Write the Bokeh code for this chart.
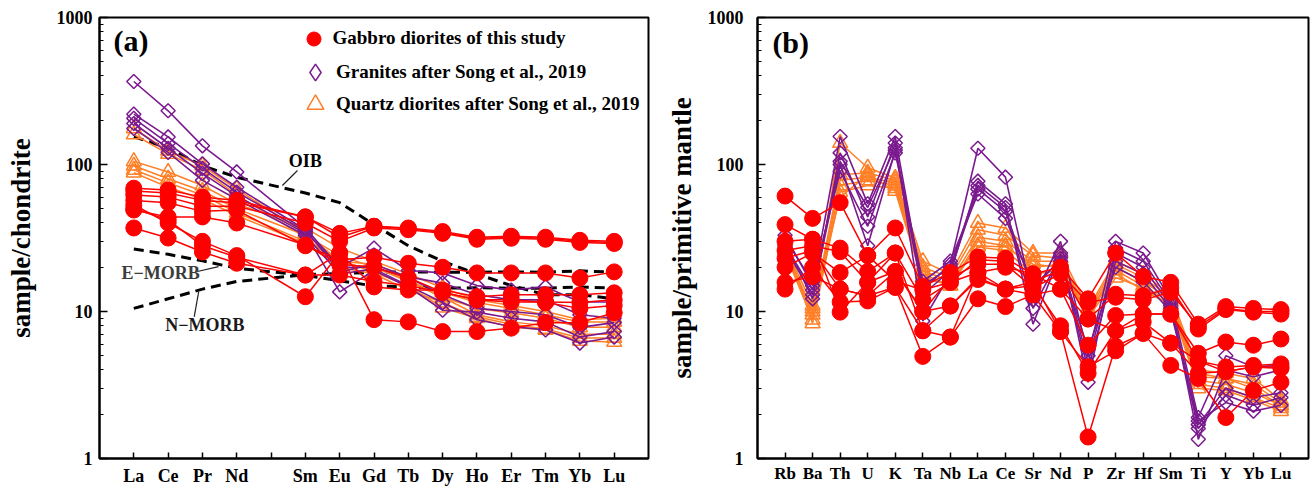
from bokeh.plotting import figure
from bokeh.layouts import row
from bokeh.models import Range1d, FixedTicker, Legend, LegendItem, Label, Arrow, BasicTickFormatter
from bokeh.embed import file_html
from bokeh.resources import INLINE

FONT = "Liberation Serif"
RED = "#ff0000"
PURPLE = "#7b1a8e"
ORANGE = "#ff7f27"

# ---------------- data: panel (a) chondrite-normalised REE ----------------
ree_ticks = ["La", "Ce", "Pr", "Nd", "", "Sm", "Eu", "Gd", "Tb", "Dy", "Ho", "Er", "Tm", "Yb", "Lu"]
ree_elements = [t for t in ree_ticks if t]

gabbro_ree = [
    [69, 67, 60, 57, 44, 34, 38, 37, 35, 32, 32.5, 32, 30.5, 30],
    [66, 64, 57, 55, 44, 32, 38, 36.5, 34.5, 31.5, 32, 31.5, 30, 29.5],
    [62, 60, 52, 52, 40, 30, 37, 36, 34, 31, 31.5, 31, 29.5, 29],
    [57, 55, 48, 49, 28, 22.5, 23.4, 21.3, 20, 18.3, 18.3, 18.3, 16.9, 18.6],
    [50, 42, 28, 23.4, 17.7, 25, 14.7, 14, 14, 12.6, 13, 13, 13, 13.4],
    [37, 31.6, 25.4, 21.3, 17.7, 17.7, 16, 15, 13.5, 12, 11.6, 11.6, 11.5, 12],
    [53, 40, 30, 24, 12.6, 25, 8.8, 8.5, 7.3, 7.3, 7.7, 8.4, 8.4, 9.8],
    [49, 44, 44, 40, 28.3, 21, 20, 17, 13.5, 12, 12, 11.5, 10.5, 11],
]
granite_ree = [
    [367, 232, 134, 89, 37, 20, 27, 19, 18.3, 15, 14, 14.7, 11.6, 11.6],
    [220, 154, 101, 70, 36, 18.6, 21, 17.2, 15.6, 13, 12, 12, 9.5, 9],
    [206, 139, 94, 65, 35, 20, 20, 17, 13, 10.5, 10, 9.5, 7.8, 8.4],
    [190, 129, 87, 61, 34, 13.6, 19, 14.7, 10.2, 9.9, 9, 8.5, 6.7, 7.3],
    [176, 121, 78, 58, 33, 18, 19.5, 15, 11.5, 8.8, 7.9, 7.5, 6.1, 6.7],
]
qdiorite_ree = [
    [176, 124, 98, 68, 34, 22, 21, 17, 13.5, 11.5, 10.5, 9.5, 8.5, 8.5],
    [160, 118, 92, 62, 32, 21, 20, 16, 12.5, 10.5, 9.8, 9, 7.8, 7.8],
    [105, 89, 72, 54, 37, 27, 22, 18, 14.5, 12, 11, 10, 8.8, 9],
    [98, 80, 66, 50, 33, 24, 20, 16.5, 12.5, 9.5, 8.5, 8, 7, 7],
    [92, 75, 62, 47, 30, 22.4, 18.5, 15, 10.6, 9, 7.8, 7.5, 6.3, 6.2],
    [88, 70, 58, 45, 29, 20, 18, 14, 11.5, 9.2, 8.2, 7.6, 6.6, 6.6],
]
oib_ree = [154, 130, 98, 82, 64, 55, 39, 28, 22, 18, 15, 13, 13, 12.2]
emorb_ree = [26.6, 24.5, 22.1, 19.7, 17.6, 16.2, 14.9, 14.7, 14.4, 14.5, 14.4, 14.4, 14.7, 14.4]
nmorb_ree = [10.5, 12.2, 14.2, 16.0, 17.8, 18.1, 18.5, 18.6, 18.5, 18.5, 18.6, 18.5, 18.9, 18.5]

# ---------------- data: panel (b) primitive-mantle-normalised ----------------
pm_elements = ["Rb", "Ba", "Th", "U", "K", "Ta", "Nb", "La", "Ce", "Sr", "Nd", "P",
               "Zr", "Hf", "Sm", "Ti", "Y", "Yb", "Lu"]

gabbro_pm = [
    [61, 43, 55, 24, 37, 14.8, 18.4, 23.5, 23, 18, 20, 12.2, 25, 17.3, 15.8, 8.2, 10.8, 10.5, 10.3],
    [39, 31, 27, 18.7, 25, 12, 15.8, 22.5, 22, 16, 19, 8.9, 13.1, 12.8, 14.5, 7.6, 10.3, 9.9, 9.6],
    [26, 28, 25.5, 15.8, 18.7, 10, 17, 21, 21, 14.5, 18, 11.5, 12.5, 12, 13.5, 7.9, 10.5, 10, 10],
    [20, 25, 18.4, 24, 16.1, 14, 15.8, 18.4, 20, 18, 14.2, 5.9, 9.4, 9.6, 9.6, 5.2, 6.2, 5.9, 6.5],
    [15.8, 17.3, 14.2, 12.8, 14.6, 7.4, 10.9, 17, 14.2, 15, 8, 3.8, 7.4, 8.5, 6.1, 4.6, 4.2, 4.3, 4.4],
    [14.2, 20, 11.6, 11.8, 14.6, 4.95, 6.7, 12.2, 10.8, 13, 7.3, 4.2, 5.4, 7.1, 6.1, 3.8, 3.9, 4.2, 4.2],
    [30, 31, 9.9, 15.8, 25, 7.4, 6.7, 18.4, 14.2, 16, 7.3, 1.4, 5.8, 7.1, 4.3, 3.5, 1.9, 2.9, 3.3],
    [23, 26, 14.2, 12.8, 18.7, 10, 10.9, 16.5, 14.2, 13, 14.2, 8.9, 7.4, 9.6, 9.6, 4.6, 3.9, 4.2, 4.1],
]
granite_pm = [
    [33, 15, 155, 54, 155, 14, 21, 129, 82, 12, 30, 5, 30, 25, 12, 1.9, 5.0, 4.2, 4.3],
    [30, 12.2, 120, 44, 140, 8.6, 18, 77, 54, 8.2, 25, 3.3, 27, 22, 11.5, 1.35, 4.0, 3.6, 4.0],
    [28, 14, 105, 51, 130, 15, 20, 72, 51, 10.5, 24, 4.5, 25, 20, 11, 1.7, 3.0, 2.6, 2.8],
    [27, 13, 100, 28, 125, 13, 19, 68, 48, 14, 23, 4.0, 22, 18, 10.5, 1.6, 2.7, 2.3, 2.6],
    [31, 16, 90, 38, 120, 16, 22, 63, 43, 15, 22, 5.5, 20, 16, 10, 1.8, 2.4, 2.1, 2.3],
]
qdiorite_pm = [
    [28, 11, 140, 95, 81, 22, 18, 40, 37, 25, 25, 10.5, 22, 18, 13, 4.0, 3.8, 3.5, 2.5],
    [27, 10, 85, 88, 78, 20, 17, 36, 33, 24, 23, 10, 21, 17, 12.5, 3.6, 3.5, 3.2, 2.4],
    [26, 9.5, 78, 82, 75, 19, 16, 32, 30, 22, 22, 9.5, 20, 16, 12, 3.4, 3.2, 2.8, 2.3],
    [25, 8.8, 72, 78, 72, 18, 15, 30, 28, 20, 21, 9.2, 19, 15, 11.5, 3.2, 3.0, 2.6, 2.2],
    [30, 8.3, 65, 72, 69, 17, 15, 28, 27.5, 21, 20, 9, 17, 14.5, 11, 3.0, 2.9, 2.5, 2.1],
    [24, 10.5, 60, 85, 66, 16, 16, 27.5, 26, 18, 19, 9.6, 18, 14, 11, 3.8, 3.5, 3.0, 2.3],
]

legend_labels = ["Gabbro diorites of this study",
                 "Granites after Song et al., 2019",
                 "Quartz diorites after Song et al., 2019"]

# annotation text positions (data units) for panel (a)
oib_label = (6.0, 105)
oib_leader = (5.77, 91, 5.33, 72)
emorb_label = (1.78, 18.3)
emorb_leader = (2.85, 18.7, 3.47, 20.2)
nmorb_label = (3.07, 8.1)
nmorb_leader = (2.76, 9.2, 2.89, 13.6)

ree_x = [ree_ticks.index(e) + 1 for e in ree_elements]
pm_x = list(range(1, len(pm_elements) + 1))


def make_fig(width, bl, br, bt, bb, xmax, ticks, labels, ylabel, ylab_standoff, tick_standoff,
             xstandoff, xfont):
    p = figure(width=width, height=488, x_range=Range1d(0, xmax), y_range=Range1d(1, 1000),
               y_axis_type="log", output_backend="svg", toolbar_location=None,
               min_border_left=bl, min_border_right=br, min_border_top=bt, min_border_bottom=bb)
    p.grid.visible = False
    p.outline_line_color = "black"
    p.outline_line_width = 2
    p.background_fill_color = "white"
    p.border_fill_color = "white"
    xa = p.xaxis[0]
    xa.ticker = FixedTicker(ticks=ticks, minor_ticks=[])
    xa.major_label_overrides = {t: l for t, l in zip(ticks, labels)}
    xa.major_tick_in = 6
    xa.major_tick_out = 0
    xa.minor_tick_line_color = None
    xa.major_label_standoff = xstandoff
    ya = p.yaxis[0]
    ya.ticker = FixedTicker(ticks=[1, 10, 100, 1000],
                            minor_ticks=[m * 10 ** d for d in range(3) for m in range(2, 10)])
    ya.formatter = BasicTickFormatter()
    ya.major_label_overrides = {1: "1", 10: "10", 100: "100", 1000: "1000"}
    ya.major_tick_in = 8
    ya.major_tick_out = 0
    ya.minor_tick_in = 4
    ya.minor_tick_out = 0
    ya.major_label_standoff = tick_standoff
    ya.axis_label = ylabel
    ya.axis_label_standoff = ylab_standoff
    ya.axis_label_text_font = FONT
    ya.axis_label_text_font_style = "bold"
    ya.axis_label_text_font_size = "27px"
    ya.axis_label_text_color = "black"
    for ax in (xa, ya):
        ax.axis_line_width = 2
        ax.axis_line_color = "black"
        ax.major_tick_line_width = 1.5
        ax.minor_tick_line_width = 1.2
        ax.major_label_text_font = FONT
        ax.major_label_text_font_style = "bold"
        ax.major_label_text_color = "black"
    xa.major_label_text_font_size = xfont
    ya.major_label_text_font_size = "18px"
    return p


def draw_groups(p, xs, qd, gr, gb):
    rq = rg = rr = None
    for vals in qd:
        p.line(xs, vals, line_color=ORANGE, line_width=1.5)
        rq = p.scatter(xs, vals, marker="triangle", size=15, line_color=ORANGE, line_width=1.5,
                       fill_alpha=0)
    for vals in gr:
        p.line(xs, vals, line_color=PURPLE, line_width=1.6)
        rg = p.scatter(xs, vals, marker="square", angle=0.785398, size=10, line_color=PURPLE,
                       line_width=1.5, fill_alpha=0)
    for vals in gb:
        p.line(xs, vals, line_color=RED, line_width=1.5)
        rr = p.scatter(xs, vals, marker="circle", size=16, line_color=RED, fill_color=RED)
    return rr, rg, rq


# ---------------- panel (a) ----------------
pa = make_fig(660, 99, 12, 17, 29, 16, list(range(1, len(ree_ticks) + 1)), ree_ticks,
              "sample/chondrite", 18, 7, 7, "18px")
for ref in (oib_ree, emorb_ree, nmorb_ree):
    pa.line(ree_x, ref, line_color="black", line_width=3, line_dash="10 6")
rr, rg, rq = draw_groups(pa, ree_x, qdiorite_ree, granite_ree, gabbro_ree)

for (txt, pos, col) in (("OIB", oib_label, "black"), ("E\u2212MORB", emorb_label, "#3c3c3c"),
                        ("N\u2212MORB", nmorb_label, "#1a1a1a")):
    pa.add_layout(Label(x=pos[0], y=pos[1], text=txt, text_font=FONT, text_font_style="bold",
                        text_font_size="18px", text_color=col, text_align="center",
                        text_baseline="middle"))
for ld in (oib_leader, emorb_leader, nmorb_leader):
    pa.add_layout(Arrow(x_start=ld[0], y_start=ld[1], x_end=ld[2], y_end=ld[3], end=None,
                        line_color="#222222", line_width=1.2))
pa.add_layout(Label(x=0.41, y=696, text="(a)", text_font=FONT, text_font_style="bold",
                    text_font_size="30px", text_color="black", text_baseline="middle"))

# legend key for the granites: hidden copy of the first granite series with an upright diamond
rg_key = pa.scatter(ree_x, granite_ree[0], marker="diamond", line_color=PURPLE, line_width=1.5,
                    fill_alpha=0, visible=False)

# legend (three single-item legends so each marker gets its own size)
frame_left, frame_top, frame_h = 99, 17, 442
for rend, lab, box, cx, cy in ((rr, legend_labels[0], 35, 313, 39),
                               (rg_key, legend_labels[1], 42, 315, 73),
                               (rq, legend_labels[2], 42, 315, 105)):
    leg = Legend(items=[LegendItem(label=lab, renderers=[rend])],
                 location=(cx - box / 2 - frame_left, frame_h - (cy + box / 2 - frame_top)),
                 glyph_width=box, glyph_height=box, padding=0, margin=0, spacing=0,
                 label_standoff=int(round(333 - (cx + box / 2))), border_line_color=None,
                 background_fill_alpha=0, label_text_font=FONT, label_text_font_style="bold",
                 label_text_font_size="19px", label_text_color="black", label_height=box,
                 click_policy="none")
    pa.add_layout(leg)

# ---------------- panel (b) ----------------
pb = make_fig(651, 97, 3, 14, 26, 20, pm_x, pm_elements, "sample/primitive mantle", 8, 14, 5,
              "17px")
draw_groups(pb, pm_x, qdiorite_pm, granite_pm, gabbro_pm)
pb.add_layout(Label(x=0.54, y=673, text="(b)", text_font=FONT, text_font_style="bold",
                    text_font_size="30px", text_color="black", text_baseline="middle"))

layout = row(pa, pb)
open("out.html", "w").write(file_html(layout, INLINE))
